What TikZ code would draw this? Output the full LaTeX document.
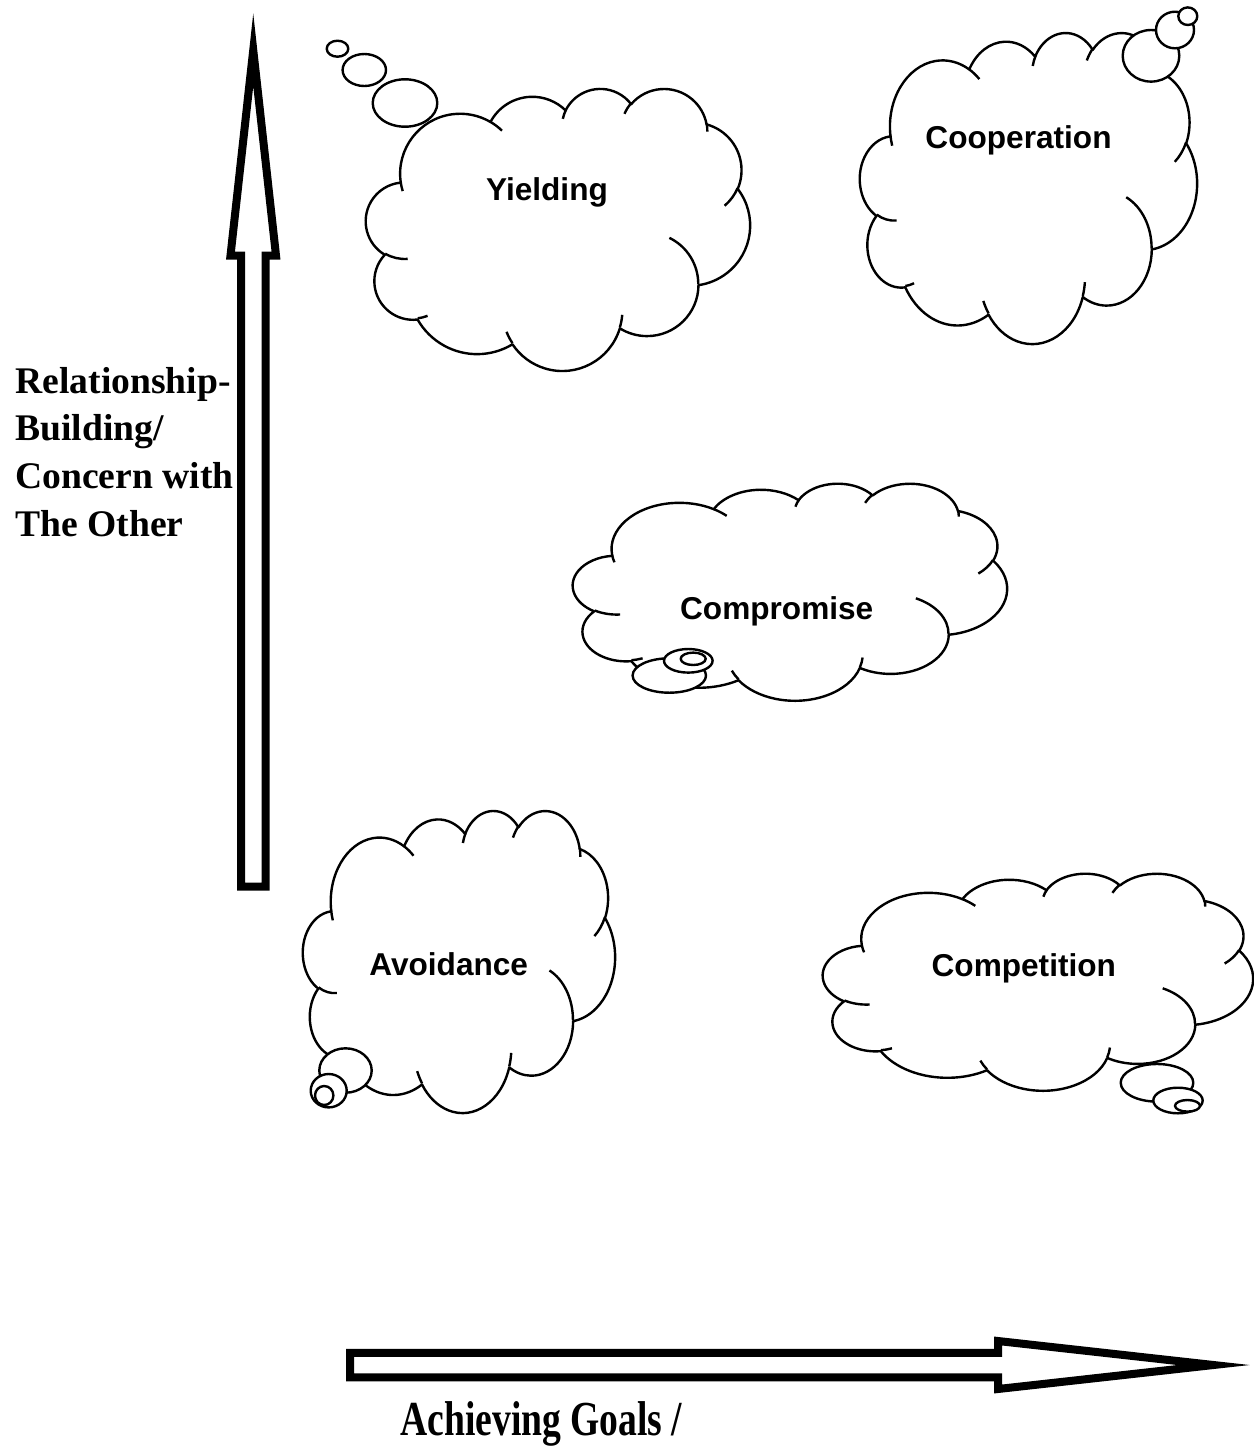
\documentclass[tikz,border=0pt]{standalone}
\usepackage{graphicx}
\usepackage{fontspec}
\setmainfont{Liberation Serif}
\setsansfont{Liberation Sans}

% one puff of a cloud: x radius, y radius, start and sweep given as ray angles
\newcommand\puff[4]{%
  \pgfextra{%
    \pgfmathsetmacro\puffst{atan2((#1)*sin(#3),(#2)*cos(#3))}%
    \pgfmathsetmacro\puffdl{atan2((#1)*sin((#3)+(#4)),(#2)*cos((#3)+(#4)))-(\puffst)}%
    \pgfmathsetmacro\puffdl{(\puffdl)+360*round(((#4)-(\puffdl))/360)}%
    \global\let\puffst\puffst \global\let\puffdl\puffdl}%
  arc[start angle=\puffst,delta angle=\puffdl,x radius=#1,y radius=#2]}

% outline of a cloud in a 432 x 432 box
\newcommand\cloudrim{%
  (39.00,143.70)
  \puff{67.53}{91.90}{-190.4875}{123.7805}
  \puff{53.33}{72.67}{-144.1024}{89.9452}
  \puff{43.65}{59.45}{-145.8079}{99.7230}
  \puff{48.57}{65.95}{-130.9861}{117.2417}
  \puff{53.33}{72.73}{-78.7089}{109.0269}
  \puff{67.75}{92.20}{-46.2673}{130.2690}
  \puff{57.85}{78.67}{0.6250}{114.0333}
  \puff{67.52}{92.15}{22.4516}{115.1726}
  \puff{77.20}{105.43}{66.2426}{75.7110}
  \puff{43.60}{59.18}{-274.9421}{146.7356}
  \puff{43.45}{59.45}{-246.8285}{152.5189}
  -- cycle}

% the short curls inside a cloud
\newcommand\cloudcurls{%
  (46.93,261.77) \puff{43.45}{59.45}{86.7420}{26.4295}
  (69.28,348.99) \puff{43.60}{59.18}{73.6105}{11.4475}
  (164.78,390.90) \puff{67.52}{92.15}{137.6242}{14.0811}
  (288.27,347.51) \puff{67.52}{92.15}{6.4533}{15.9984}
  (341.29,229.54) \puff{57.85}{78.67}{-70.2924}{70.9174}
  (417.98,153.54) \puff{53.33}{72.73}{30.3180}{27.7515}
  (383.24,54.26) \puff{48.57}{65.95}{-13.7443}{14.8589}
  (290.78,39.52) \puff{48.57}{65.95}{-149.1815}{18.1954}
  (221.41,47.20) \puff{43.65}{59.45}{-163.4943}{17.6864}
  (140.00,51.92) \puff{67.53}{91.90}{-66.7070}{12.3194}
  (41.27,157.89) \puff{67.53}{91.90}{157.6544}{11.8582}}

\begin{document}
\begin{tikzpicture}
  [x=0.5pt,y=0.5pt,yscale=-1,
   cloudline/.style={line width=1.2pt,line join=round},
   bigarrow/.style={line width=4pt,miter limit=25},
   cloudtext/.style={font=\sffamily\bfseries\fontsize{15.8}{19}\selectfont,inner sep=0pt,anchor=base},
   axistext/.style={font=\bfseries\fontsize{18.8}{23.75}\selectfont,inner sep=0pt,align=left}]
  \useasboundingbox (0,0) rectangle (1254,1447);

  % the two axes
  \draw[bigarrow] (241,886.7) -- (241,255.5) -- (230.5,255.5) -- (253.25,50)
    -- (276,255.5) -- (265.5,255.5) -- (265.5,886.7) -- cycle;
  \draw[bigarrow] (350,1352.75) -- (998,1352.75) -- (998,1341) -- (1213.5,1365)
    -- (998,1389) -- (998,1377.25) -- (350,1377.25) -- cycle;

  % clouds: left/top/width/height
  \foreach \px/\py/\pw/\ph in {366/88/384/282,860/32/337/311,573/483/434/217,
                               303/810/312/302,823/873/430/217}
  {
    \begin{scope}[shift={(\px,\py)},xscale=\pw/432,yscale=\ph/432]
      \draw[cloudline,fill=white] \cloudrim;
      \draw[cloudline] \cloudcurls;
    \end{scope}
  }

  % thought bubbles
  \foreach \cx/\cy/\rx/\ry in {405/103/32.3/23.7,364.3/70/21.7/16,337.5/48.7/10.8/8,
                               1151/55.8/28.3/25.8,1175/30/19/18.3,1187.8/16.2/9.5/8.8,
                               669.3/675.5/36.7/17.2,688.3/660.8/24.3/11.8,693.2/658.8/12.5/6.2,
                               345.5/1070.5/26.2/22.2,328.7/1090.7/18/16.7,324.2/1095.5/9.2/9.5,
                               1157/1082.8/36.3/18.8,1178/1100.5/24.7/12.8,1187.5/1105.8/12.5/5.8}
    \draw[cloudline,fill=white] (\cx,\cy) ellipse [x radius=\rx,y radius=\ry];

  % labels
  \node[cloudtext] (yielding) at (547,200) {Yielding};
  \node[cloudtext] (cooperation) at (1018.5,148.3) {Cooperation};
  \node[cloudtext] (compromise) at (776.7,619.3) {Compromise};
  \node[cloudtext] (avoidance) at (448.7,975) {Avoidance};
  \node[cloudtext] (competition) at (1023.8,976.7) {Competition};
  \node[axistext,anchor=north west] (concern) at (15,367)
    {Relationship-\\Building/\\Concern with\\The Other};
  \node[axistext,anchor=base west] (goals) at (400,1435)
    {\scalebox{1}[1.3]{Achieving Goals /}};
\end{tikzpicture}
\end{document}
